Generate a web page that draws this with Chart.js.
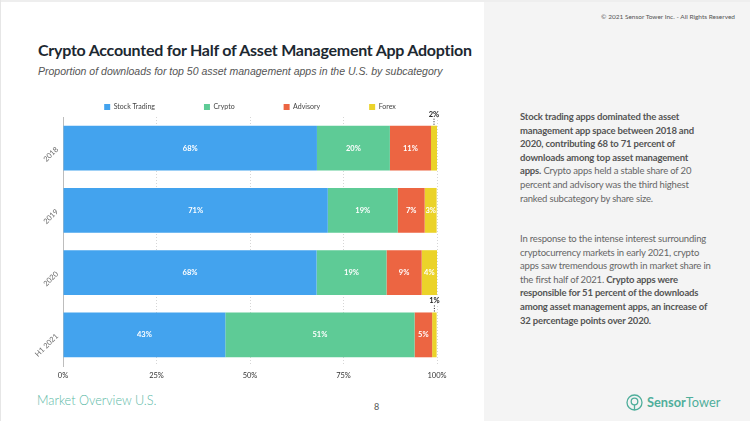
<!DOCTYPE html>
<html><head><meta charset="utf-8">
<script src="https://cdn.jsdelivr.net/npm/chart.js@4"></script>
<style>
html,body{margin:0;padding:0;}
body{width:750px;height:421px;position:relative;overflow:hidden;background:#fff;font-family:Lato,sans-serif;}
#topstrip{position:absolute;left:0;top:0;width:750px;height:2px;background:#eeeeee;}
#leftline{position:absolute;left:0;top:0;width:1px;height:421px;background:#e6e6e6;}
#right{position:absolute;left:484px;top:2px;width:266px;height:419px;background:#f4f4f4;}
#copy{position:absolute;right:15px;top:13px;font:400 6.5px Lato;color:#555;white-space:nowrap;}
#title{position:absolute;left:38px;top:40px;font:700 16px Lato;letter-spacing:-0.25px;color:#1c2831;white-space:nowrap;}
#sub{position:absolute;left:38px;top:65px;font:italic 10.5px "Liberation Sans",Arial,sans-serif;color:#555;white-space:nowrap;}
#wrap{position:absolute;left:0;top:50px;width:500px;height:340px;}
.para{position:absolute;left:520px;font:400 9.5px Lato;letter-spacing:-0.18px;line-height:13.6px;color:#666;white-space:nowrap;}
.para b{font-weight:700;color:#555;}
#p1{top:110px;}
#p2{top:232px;}
#foot{position:absolute;left:37px;top:392px;font:300 12.7px Lato;color:#5bb9a6;white-space:nowrap;}
#pg{position:absolute;left:374px;top:401px;font:400 9px Lato;color:#555;}
#logo{position:absolute;left:626px;top:393px;height:18px;display:flex;align-items:center;color:#4fae9b;font:12.8px Lato;white-space:nowrap;}
#logo svg{margin-right:4px;}
</style></head>
<body>
<div id="topstrip"></div><div id="leftline"></div>
<div id="right"></div>
<div id="copy">© 2021 Sensor Tower Inc. - All Rights Reserved</div>
<div id="title">Crypto Accounted for Half of Asset Management App Adoption</div>
<div id="sub">Proportion of downloads for top 50 asset management apps in the U.S. by subcategory</div>
<div id="wrap"><canvas id="c"></canvas></div>
<div class="para" id="p1"><b>Stock trading apps dominated the asset<br>management app space between 2018 and<br>2020, contributing 68 to 71 percent of<br>downloads among top asset management<br>apps.</b> Crypto apps held a stable share of 20<br>percent and advisory was the third highest<br>ranked subcategory by share size.</div>
<div class="para" id="p2">In response to the intense interest surrounding<br>cryptocurrency markets in early 2021, crypto<br>apps saw tremendous growth in market share in<br>the first half of 2021. <b>Crypto apps were<br>responsible for 51 percent of the downloads<br>among asset management apps, an increase of<br>32 percentage points over 2020.</b></div>
<div id="foot">Market Overview U.S.</div>
<div id="pg">8</div>
<div id="logo"><svg width="17" height="17" viewBox="0 0 17 17"><circle cx="8.5" cy="8.5" r="7.5" fill="none" stroke="#4fae9b" stroke-width="1.3"/><circle cx="8.5" cy="7.5" r="3.3" fill="none" stroke="#4fae9b" stroke-width="1.3"/><line x1="8.5" y1="10.8" x2="8.5" y2="16" stroke="#4fae9b" stroke-width="1.3"/></svg><b style="font-weight:700">Sensor</b><span>Tower</span></div>
<script>
const categories = ['2018', '2019', '2020', 'H1 2021'];
const seriesNames = ['Stock Trading', 'Crypto', 'Advisory', 'Forex'];
const stockTrading = [67.9, 70.8, 67.8, 43.4];
const crypto = [19.5, 18.7, 18.7, 50.6];
const advisory = [11.0, 7.2, 9.4, 4.7];
const forex = [1.6, 3.2, 4.1, 1.2];
const xTicks = [0, 25, 50, 75, 100];

const colors = ['#43a3ee', '#5ecb96', '#ec6542', '#ebd32a'];
const seriesData = [stockTrading, crypto, advisory, forex];

const segLabels = {
  id: 'segLabels',
  afterDatasetsDraw(chart) {
    const ctx = chart.ctx;
    chart.data.datasets.forEach((ds, di) => {
      const meta = chart.getDatasetMeta(di);
      meta.data.forEach((bar, i) => {
        const v = ds.data[i];
        const txt = Math.round(v) + '%';
        const p = bar.getProps(['x', 'y', 'base', 'height'], true);
        const cx = (p.x + p.base) / 2;
        ctx.save();
        ctx.font = '700 7.5px Lato';
        ctx.textAlign = 'center';
        ctx.textBaseline = 'middle';
        if (v < 2.5) {
          const top = p.y - p.height / 2;
          ctx.strokeStyle = '#222';
          ctx.lineWidth = 1;
          ctx.setLineDash([1, 1.5]);
          ctx.beginPath();
          ctx.moveTo(cx, top - 1);
          ctx.lineTo(cx, top - 8);
          ctx.stroke();
          ctx.fillStyle = '#222';
          ctx.fillText(txt, cx, top - 11.5);
        } else {
          ctx.fillStyle = '#fff';
          ctx.fillText(txt, cx, p.y);
        }
        ctx.restore();
      });
    });
  }
};

const legendTrim = {
  id: 'legendTrim',
  beforeLayout(chart) {
    const lg = chart.legend;
    if (lg && !lg._trimmed) {
      const f = lg.fit;
      lg.fit = function () { f.call(this); this.height -= 3.5; };
      lg._trimmed = true;
    }
  },
  afterLayout(chart) {
    // centre the legend over the plot area rather than over plot + y axis
    const lg = chart.legend;
    if (!lg) return;
    const shift = (chart.chartArea.left + chart.chartArea.right) / 2 - (lg.left + lg.right) / 2;
    lg.left += shift;
    lg.right += shift;
  }
};

new Chart(document.getElementById('c'), {
  type: 'bar',
  data: {
    labels: categories,
    datasets: seriesNames.map((n, k) => ({
      label: n,
      data: seriesData[k],
      backgroundColor: colors[k],
      borderWidth: 0,
      categoryPercentage: 0.8,
      barPercentage: 0.9
    }))
  },
  options: {
    indexAxis: 'y',
    responsive: true,
    maintainAspectRatio: false,
    animation: false,
    layout: { padding: { top: 4.5, right: 63, bottom: 4, left: 0 } },
    plugins: {
      tooltip: { enabled: false },
      legend: {
        position: 'top',
        labels: {
          boxWidth: 6, boxHeight: 6, padding: 49,
          color: '#444',
          font: { family: 'Lato', size: 7 }
        }
      }
    },
    scales: {
      x: {
        stacked: true,
        min: 0, max: 100,
        afterBuildTicks(scale) { scale.ticks = xTicks.map(v => ({ value: v })); },
        afterFit(scale) { scale.height = 20; },
        grid: { color: '#d6d6d6', drawTicks: false, lineWidth: 1 },
        border: { display: false, dash: [1, 2] },
        ticks: {
          padding: 5, color: '#333',
          font: { family: 'Lato', size: 7.5 },
          callback: v => v + '%'
        }
      },
      y: {
        stacked: true,
        afterFit(scale) { scale.width = 63; },
        grid: { display: false, drawTicks: false },
        border: { display: true, color: '#bdbdbd', width: 1 },
        ticks: {
          padding: 6, color: '#666',
          minRotation: 45, maxRotation: 45,
          font: { family: 'Lato', size: 7.5 }
        }
      }
    }
  },
  plugins: [segLabels, legendTrim]
});
</script>
</body></html>
